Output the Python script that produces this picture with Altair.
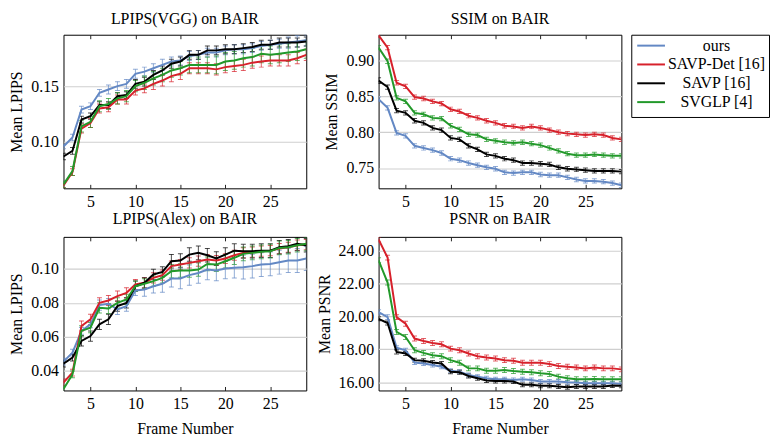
import altair as alt
import pandas as pd

FRAMES = list(range(2, 30))
SERIES = ["ours", "SAVP-Det [16]", "SAVP [16]", "SVGLP [4]"]
COLORS = ["#6388c4", "#d7212b", "#000000", "#22992a"]
X_TICKS = [5, 10, 15, 20, 25]
FONT = "Liberation Serif, Times New Roman, serif"
FS = 16

# LPIPS (VGG)
VGG_OURS = [0.096,0.104,0.129,0.132,0.144,0.147,0.150,0.152,0.161,0.163,0.166,0.169,0.172,0.173,0.177,0.178,0.180,0.180,0.182,0.183,0.183,0.184,0.186,0.187,0.188,0.189,0.190,0.191]
VGG_DET = [0.061,0.073,0.112,0.117,0.130,0.131,0.138,0.138,0.146,0.148,0.152,0.155,0.159,0.161,0.166,0.166,0.166,0.165,0.167,0.168,0.169,0.171,0.172,0.173,0.173,0.173,0.175,0.178]
VGG_SAVP = [0.087,0.092,0.120,0.123,0.133,0.133,0.141,0.142,0.152,0.154,0.160,0.164,0.170,0.172,0.178,0.178,0.182,0.182,0.183,0.183,0.184,0.185,0.187,0.187,0.189,0.189,0.189,0.190]
VGG_SVG = [0.062,0.074,0.114,0.118,0.132,0.134,0.139,0.141,0.150,0.153,0.157,0.160,0.164,0.166,0.169,0.169,0.169,0.169,0.172,0.173,0.175,0.176,0.179,0.178,0.179,0.180,0.181,0.183]
VGG_OURS_ERR = [0.002,0.003,0.003,0.003,0.003,0.004,0.004,0.004,0.004,0.004,0.004,0.005,0.004,0.004,0.004,0.004,0.004,0.004,0.004,0.004,0.004,0.004,0.004,0.004,0.004,0.005,0.005,0.005]
VGG_DET_ERR = [0.002,0.003,0.004,0.004,0.004,0.004,0.004,0.004,0.004,0.004,0.005,0.005,0.005,0.005,0.005,0.005,0.005,0.005,0.005,0.005,0.005,0.005,0.005,0.005,0.005,0.005,0.005,0.005]
VGG_SAVP_ERR = [0.003,0.003,0.003,0.003,0.003,0.003,0.003,0.003,0.004,0.004,0.004,0.004,0.004,0.004,0.004,0.004,0.004,0.004,0.004,0.004,0.004,0.004,0.004,0.004,0.004,0.004,0.004,0.004]
VGG_SVG_ERR = [0.003,0.004,0.005,0.005,0.005,0.005,0.005,0.005,0.005,0.006,0.006,0.006,0.006,0.006,0.007,0.007,0.007,0.008,0.008,0.008,0.008,0.008,0.008,0.008,0.008,0.008,0.008,0.008]

# SSIM
SSIM_OURS = [0.846,0.834,0.799,0.795,0.781,0.778,0.775,0.771,0.763,0.761,0.757,0.754,0.751,0.749,0.744,0.743,0.744,0.744,0.741,0.740,0.740,0.737,0.734,0.732,0.732,0.731,0.729,0.726]
SSIM_DET = [0.935,0.918,0.869,0.864,0.849,0.847,0.843,0.840,0.832,0.829,0.823,0.820,0.816,0.813,0.809,0.808,0.806,0.808,0.806,0.803,0.800,0.798,0.797,0.796,0.797,0.796,0.792,0.790]
SSIM_SAVP = [0.872,0.863,0.830,0.827,0.816,0.813,0.806,0.803,0.792,0.790,0.781,0.776,0.769,0.767,0.763,0.761,0.757,0.757,0.756,0.755,0.751,0.749,0.748,0.747,0.746,0.746,0.746,0.745]
SSIM_SVG = [0.918,0.899,0.848,0.843,0.827,0.825,0.820,0.819,0.809,0.804,0.797,0.796,0.790,0.788,0.786,0.785,0.786,0.784,0.782,0.778,0.774,0.770,0.768,0.768,0.769,0.768,0.767,0.767]
SSIM_OURS_ERR = [0.003,0.003,0.003,0.003,0.003,0.003,0.003,0.003,0.003,0.003,0.003,0.003,0.003,0.003,0.003,0.003,0.003,0.003,0.003,0.003,0.003,0.003,0.003,0.003,0.003,0.003,0.003,0.003]
SSIM_DET_ERR = [0.003,0.003,0.003,0.003,0.003,0.003,0.003,0.003,0.003,0.003,0.003,0.003,0.003,0.003,0.003,0.003,0.003,0.003,0.003,0.003,0.003,0.003,0.003,0.003,0.003,0.003,0.003,0.003]
SSIM_SAVP_ERR = [0.004,0.003,0.003,0.003,0.003,0.003,0.003,0.003,0.003,0.003,0.003,0.003,0.003,0.003,0.003,0.003,0.003,0.003,0.003,0.003,0.003,0.003,0.003,0.003,0.003,0.003,0.003,0.003]
SSIM_SVG_ERR = [0.003,0.003,0.003,0.003,0.003,0.003,0.003,0.003,0.003,0.003,0.003,0.003,0.003,0.003,0.003,0.003,0.003,0.003,0.003,0.003,0.003,0.003,0.003,0.003,0.003,0.003,0.003,0.003]

# LPIPS (Alex)
ALEX_OURS = [0.0455,0.0507,0.0635,0.0674,0.0787,0.0795,0.0762,0.0781,0.0873,0.0879,0.0898,0.0912,0.0943,0.0943,0.0963,0.0976,0.0996,0.0990,0.1002,0.1006,0.1010,0.1016,0.1025,0.1029,0.1039,0.1049,0.1049,0.1061]
ALEX_DET = [0.0332,0.0390,0.0664,0.0703,0.0800,0.0814,0.0840,0.0859,0.0908,0.0918,0.0947,0.0963,0.1016,0.1025,0.1035,0.1045,0.1055,0.1049,0.1061,0.1080,0.1094,0.1098,0.1104,0.1107,0.1119,0.1127,0.1139,0.1143]
ALEX_SAVP = [0.0443,0.0478,0.0576,0.0605,0.0674,0.0703,0.0781,0.0800,0.0898,0.0918,0.0967,0.0982,0.1045,0.1049,0.1084,0.1094,0.1080,0.1061,0.1084,0.1107,0.1104,0.1104,0.1107,0.1107,0.1127,0.1133,0.1147,0.1139]
ALEX_SVG = [0.0293,0.0380,0.0635,0.0654,0.0771,0.0767,0.0800,0.0820,0.0898,0.0912,0.0928,0.0947,0.0986,0.0990,0.0990,0.0996,0.1029,0.1025,0.1045,0.1065,0.1088,0.1094,0.1100,0.1104,0.1123,0.1127,0.1139,0.1147]
ALEX_OURS_ERR = [0.002,0.002,0.002,0.002,0.003,0.003,0.003,0.003,0.003,0.004,0.004,0.005,0.005,0.006,0.006,0.006,0.006,0.006,0.006,0.006,0.007,0.007,0.007,0.007,0.007,0.007,0.007,0.007]
ALEX_DET_ERR = [0.002,0.002,0.003,0.003,0.003,0.003,0.003,0.003,0.003,0.003,0.003,0.003,0.003,0.003,0.003,0.003,0.003,0.003,0.003,0.003,0.003,0.003,0.003,0.003,0.003,0.003,0.003,0.003]
ALEX_SAVP_ERR = [0.002,0.002,0.003,0.003,0.003,0.003,0.003,0.003,0.003,0.003,0.003,0.003,0.004,0.004,0.004,0.004,0.004,0.004,0.004,0.004,0.004,0.004,0.004,0.004,0.004,0.004,0.004,0.004]
ALEX_SVG_ERR = [0.002,0.002,0.003,0.003,0.003,0.003,0.003,0.003,0.003,0.003,0.003,0.003,0.004,0.004,0.004,0.004,0.004,0.004,0.004,0.004,0.004,0.004,0.004,0.004,0.004,0.004,0.004,0.004]

# PSNR
PSNR_OURS = [20.25,19.95,18.10,17.94,17.20,17.14,17.04,16.94,16.70,16.64,16.44,16.34,16.24,16.18,16.18,16.14,16.18,16.14,16.04,16.04,16.04,16.00,15.98,15.94,15.94,15.94,15.94,15.90]
PSNR_DET = [24.66,23.56,19.95,19.55,18.65,18.50,18.38,18.30,18.04,17.94,17.74,17.58,17.50,17.44,17.34,17.30,17.18,17.18,17.18,17.10,16.98,16.94,16.90,16.84,16.90,16.84,16.84,16.78]
PSNR_SAVP = [19.85,19.59,17.84,17.74,17.34,17.30,17.20,17.14,16.64,16.60,16.38,16.24,16.10,16.08,16.08,16.04,15.84,15.84,15.78,15.78,15.74,15.70,15.74,15.74,15.74,15.74,15.80,15.78]
PSNR_SVG = [23.40,22.05,19.05,18.75,17.94,17.78,17.64,17.58,17.34,17.18,16.84,16.84,16.70,16.70,16.74,16.68,16.64,16.60,16.54,16.50,16.34,16.24,16.18,16.18,16.20,16.18,16.18,16.18]
PSNR_OURS_ERR = [0.15,0.15,0.12,0.12,0.12,0.12,0.12,0.12,0.12,0.12,0.12,0.12,0.12,0.12,0.12,0.12,0.12,0.12,0.12,0.12,0.12,0.12,0.12,0.12,0.12,0.12,0.12,0.12]
PSNR_DET_ERR = [0.15,0.15,0.15,0.15,0.15,0.15,0.15,0.15,0.15,0.15,0.15,0.15,0.15,0.15,0.15,0.15,0.15,0.15,0.15,0.15,0.15,0.15,0.15,0.15,0.15,0.15,0.15,0.15]
PSNR_SAVP_ERR = [0.12,0.12,0.12,0.12,0.12,0.12,0.12,0.12,0.12,0.12,0.12,0.12,0.12,0.12,0.12,0.12,0.12,0.12,0.12,0.12,0.12,0.12,0.12,0.12,0.12,0.12,0.12,0.12]
PSNR_SVG_ERR = [0.15,0.15,0.15,0.15,0.15,0.15,0.15,0.15,0.15,0.15,0.15,0.15,0.15,0.15,0.15,0.15,0.15,0.15,0.15,0.15,0.15,0.15,0.15,0.15,0.15,0.15,0.15,0.15]

W, H = 245, 155
CSCALE = alt.Scale(domain=SERIES, range=COLORS)


def make_df(vals, errs):
    rows = []
    for name, v, e in zip(SERIES, vals, errs):
        for f, y, d in zip(FRAMES, v, e):
            rows.append({"frame": f, "series": name, "value": y, "lo": y - d, "hi": y + d})
    return pd.DataFrame(rows)


def panel(df, title, ytitle, domain, ticks, fmt, xtitle, toff):
    base = alt.Chart(df)
    xscale = alt.Scale(domain=[2, 29], nice=False, zero=False)
    yscale = alt.Scale(domain=domain, nice=False, zero=False)
    if xtitle:
        xaxis = alt.Axis(values=X_TICKS, title=xtitle)
    else:
        xaxis = alt.Axis(values=X_TICKS, title=None)
    x = alt.X("frame:Q", scale=xscale, axis=xaxis)
    err = base.mark_errorbar(ticks=True, opacity=0.7, clip=True).encode(
        x=x,
        y=alt.Y("lo:Q", scale=yscale, axis=alt.Axis(values=ticks, format=fmt, title=ytitle)),
        y2="hi:Q",
        color=alt.Color("series:N", scale=CSCALE, sort=SERIES, legend=None),
    )
    line = base.mark_line(strokeWidth=2, clip=True).encode(
        x=x,
        y=alt.Y("value:Q", scale=yscale, axis=alt.Axis(values=ticks, format=fmt, title=ytitle)),
        color=alt.Color("series:N", scale=CSCALE, sort=SERIES, legend=None),
    )
    return alt.layer(err, line).properties(
        width=W, height=H, title=alt.TitleParams(title, offset=toff)
    )


p1 = panel(make_df([VGG_OURS, VGG_DET, VGG_SAVP, VGG_SVG],
                   [VGG_OURS_ERR, VGG_DET_ERR, VGG_SAVP_ERR, VGG_SVG_ERR]),
           "LPIPS(VGG) on BAIR", "Mean LPIPS", [0.0585, 0.196], [0.10, 0.15], ".2f", None, 8)
p2 = panel(make_df([SSIM_OURS, SSIM_DET, SSIM_SAVP, SSIM_SVG],
                   [SSIM_OURS_ERR, SSIM_DET_ERR, SSIM_SAVP_ERR, SSIM_SVG_ERR]),
           "SSIM on BAIR", "Mean SSIM", [0.7217, 0.936], [0.75, 0.80, 0.85, 0.90], ".2f", None, 8)
p3 = panel(make_df([ALEX_OURS, ALEX_DET, ALEX_SAVP, ALEX_SVG],
                   [ALEX_OURS_ERR, ALEX_DET_ERR, ALEX_SAVP_ERR, ALEX_SVG_ERR]),
           "LPIPS(Alex) on BAIR", "Mean LPIPS", [0.0285, 0.1188], [0.04, 0.06, 0.08, 0.10], ".2f", "Frame Number", 10)
p4 = panel(make_df([PSNR_OURS, PSNR_DET, PSNR_SAVP, PSNR_SVG],
                   [PSNR_OURS_ERR, PSNR_DET_ERR, PSNR_SAVP_ERR, PSNR_SVG_ERR]),
           "PSNR on BAIR", "Mean PSNR", [15.5, 24.82], [16, 18, 20, 22, 24], ".2f", "Frame Number", 10)

grid = alt.concat(p1, p2, p3, p4, columns=2, spacing={"row": 0, "column": 8})

# legend drawn as its own small boxed view
leg_base = alt.Chart(pd.DataFrame({"series": SERIES})).properties(
    width=139, height=83, title=alt.TitleParams(" ", offset=8)
)
leg_y = alt.Y("series:N", sort=SERIES,
              scale=alt.Scale(type="point", domain=SERIES, range=[11, 68], padding=0), axis=None)
leg_rule = leg_base.mark_rule(strokeWidth=2).encode(
    x=alt.value(6), x2=alt.value(34), y=leg_y,
    color=alt.Color("series:N", scale=CSCALE, legend=None),
)
leg_text = leg_base.mark_text(align="center", baseline="middle", font=FONT, fontSize=FS, color="black").encode(
    x=alt.value(86), y=leg_y, text="series:N"
)
legend = alt.layer(leg_rule, leg_text)

chart = alt.hconcat(grid, legend, spacing=8).properties(
    padding=0
).configure(
    font=FONT
).configure_view(
    stroke="black", strokeWidth=1
).configure_title(
    font=FONT, fontSize=FS, fontWeight="normal", color="black"
).configure_axis(
    labelFont=FONT, labelFontSize=FS, labelColor="black",
    titleFont=FONT, titleFontSize=FS, titleFontWeight="normal", titleColor="black",
    domain=False, ticks=False,
).configure_axisX(
    grid=True, gridColor="#222222", gridDash=[4, 147, 4, 1000], gridWidth=1, labelPadding=5,
    titlePadding=9,
).configure_axisY(
    grid=True, gridColor="#cfcfcf", gridWidth=1.2, labelPadding=5, titlePadding=6,
)

chart.save("out.html", embed_options={"renderer": "svg", "actions": False})
